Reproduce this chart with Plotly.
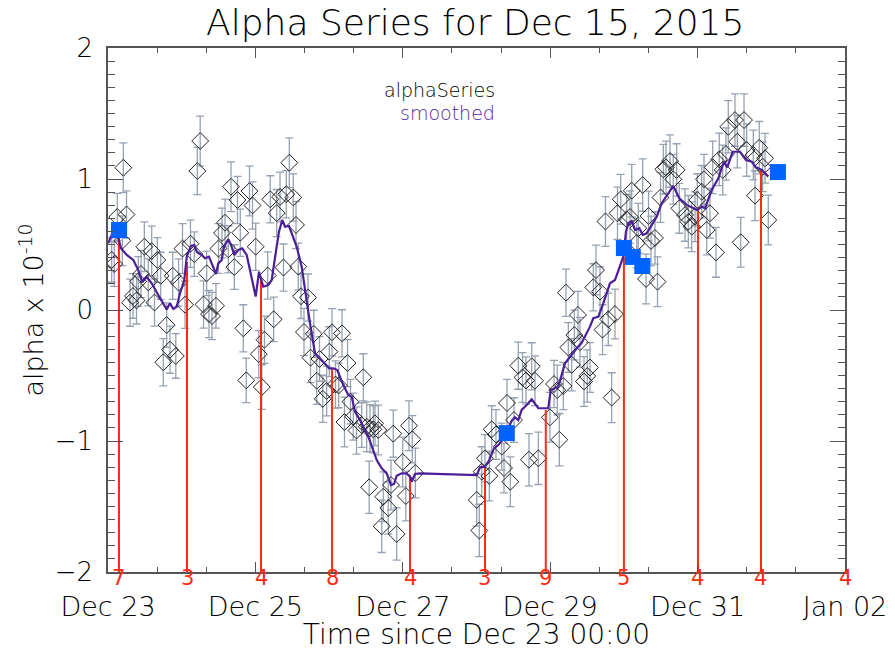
import plotly.graph_objects as go

# ---- data (days since Dec 23 00:00, alpha in units of 1e-10) ----
alpha_t = [0.050, 0.085, 0.126, 0.194, 0.208, 0.251, 0.299, 0.339, 0.387, 0.411,
           0.448, 0.493, 0.547, 0.593, 0.631, 0.669, 0.715, 0.750, 0.796, 0.841,
           0.878, 0.920, 0.958, 1.011, 1.045, 1.119, 1.171, 1.212, 1.251, 1.296,
           1.339, 1.370, 1.411, 1.465, 1.499, 1.547, 1.588, 1.632, 1.669, 1.714,
           1.757, 1.795, 1.836, 1.876, 1.920, 1.961, 2.004, 2.046, 2.087, 2.123,
           2.167, 2.202, 2.248, 2.289, 2.334, 2.381, 2.419, 2.460, 2.514, 2.551,
           2.582, 2.619, 2.659, 2.714, 2.748, 2.792, 2.832, 2.870, 2.914, 2.967,
           3.003, 3.039, 3.087, 3.130, 3.175, 3.209, 3.250, 3.290, 3.328, 3.372,
           3.442, 3.464, 3.510, 3.544, 3.555, 3.600, 3.623, 3.668, 3.714, 3.735,
           3.803, 3.840, 3.871, 3.917, 3.999, 4.041, 4.084, 4.129, 4.170,
           5.003, 5.038, 5.071, 5.115, 5.174, 5.206, 5.264, 5.342, 5.373, 5.414,
           5.459, 5.509, 5.567, 5.624, 5.672, 5.749, 5.794, 5.712, 5.839, 5.997,
           6.052, 6.096, 6.124, 6.178, 6.214, 6.246, 6.292, 6.327, 6.377, 6.404,
           6.459, 6.503, 6.540, 6.585, 6.621, 6.676, 6.710, 6.750, 6.788, 6.834,
           6.879, 6.913, 6.957, 7.038, 7.083, 7.106, 7.174, 7.195, 7.255, 7.300,
           7.334, 7.368, 7.422, 7.456, 7.497, 7.535, 7.571, 7.626, 7.670, 7.716,
           7.752, 7.829, 7.874, 7.920, 7.965, 7.996, 8.056, 8.087, 8.124, 8.168,
           8.205, 8.250, 8.294, 8.341, 8.385, 8.416, 8.507, 8.539, 8.585, 8.630,
           8.666, 8.756, 8.779, 8.837, 8.883, 8.915, 8.959]
alpha_v = [0.382, 0.351, 0.710, 0.529, 1.086, 0.729, 0.056, 0.107, 0.073, 0.218,
           0.275, 0.483, 0.211, 0.450, 0.057, 0.382, 0.261, -0.399, -0.115, -0.303,
           0.261, -0.351, 0.210, 0.469, 0.040, 0.506, 0.427, 1.061, 1.290, 0.042,
           0.280, -0.031, -0.046, 0.032, 0.469, 0.588, 0.666, 0.463, 0.941, 0.328,
           0.840, 0.590, -0.140, -0.537, 0.908, 0.798, 0.483, -0.337, -0.588, -0.227,
           0.263, 0.845, -0.071, 0.740, 0.863, 0.324, 0.884, 1.124, 0.859, 0.649,
           0.331, 0.105, -0.168, 0.095, -0.364, -0.182, -0.540, -0.374, -0.678, -0.618,
           -0.318, -0.170, -0.569, -0.576, -0.178, -0.855, -0.405, -0.700, -0.814, -0.920,
           -0.878, -0.514, -0.891, -1.353, -0.903, -0.911, -0.865, -0.916, -1.651, -1.425,
           -1.511, -1.336, -0.944, -1.710, -1.160, -1.420, -0.883, -0.987, -1.244,
           -1.450, -1.683, -1.234, -1.132, -1.267, -0.911, -0.950, -1.043, -1.206, -0.710,
           -1.311, -0.840, -0.425, -0.515, -0.538, -0.430, -0.540, -1.143, -1.132, -0.819,
           -0.565, -0.611, -0.990, -0.580, 0.132, -0.286, -0.418, -0.191, -0.038, -0.246,
           -0.546, -0.504, -0.439, 0.173, 0.305, 0.140, -0.150, 0.676, -0.071, -0.669,
           -0.031, 0.738, 0.845, 0.692, 0.710, 0.911, 0.511, 0.624, 0.954, 0.237,
           0.718, 0.527, 0.550, 0.216, 0.859, 1.074, 1.089, 1.137, 0.998, 1.069,
           0.776, 0.725, 0.674, 0.636, 0.712, 0.840, 0.903, 0.998, 0.611, 0.738,
           1.089, 0.440, 1.150, 1.069, 1.191, 1.399, 1.450, 1.285, 0.517, 1.450,
           1.221, 1.183, 0.873, 1.239, 1.094, 1.158, 0.687]
alpha_err = [0.17, 0.17, 0.18, 0.19, 0.19, 0.18, 0.18, 0.17, 0.18, 0.19,
             0.18, 0.19, 0.18, 0.19, 0.18, 0.17, 0.18, 0.18, 0.17, 0.18,
             0.18, 0.17, 0.18, 0.19, 0.18, 0.18, 0.17, 0.18, 0.19, 0.18,
             0.17, 0.18, 0.18, 0.17, 0.19, 0.19, 0.18, 0.18, 0.19, 0.17,
             0.18, 0.18, 0.18, 0.17, 0.19, 0.18, 0.18, 0.18, 0.17, 0.18,
             0.18, 0.18, 0.17, 0.18, 0.19, 0.18, 0.18, 0.19, 0.18, 0.18,
             0.18, 0.17, 0.18, 0.18, 0.19, 0.18, 0.18, 0.17, 0.18, 0.19,
             0.19, 0.18, 0.18, 0.17, 0.18, 0.19, 0.18, 0.17, 0.18, 0.18,
             0.17, 0.18, 0.19, 0.20, 0.18, 0.18, 0.17, 0.19, 0.20, 0.19,
             0.20, 0.19, 0.18, 0.20, 0.19, 0.19, 0.19, 0.18, 0.19,
             0.20, 0.20, 0.19, 0.18, 0.19, 0.18, 0.19, 0.18, 0.19, 0.18,
             0.19, 0.17, 0.18, 0.19, 0.18, 0.18, 0.19, 0.20, 0.20, 0.19,
             0.18, 0.19, 0.20, 0.18, 0.18, 0.19, 0.20, 0.19, 0.18, 0.19,
             0.19, 0.20, 0.19, 0.18, 0.19, 0.19, 0.19, 0.19, 0.20, 0.19,
             0.19, 0.20, 0.19, 0.19, 0.20, 0.20, 0.19, 0.19, 0.20, 0.19,
             0.19, 0.19, 0.20, 0.19, 0.19, 0.19, 0.20, 0.20, 0.19, 0.20,
             0.19, 0.20, 0.20, 0.19, 0.19, 0.20, 0.20, 0.19, 0.19, 0.19,
             0.20, 0.19, 0.20, 0.19, 0.20, 0.20, 0.20, 0.20, 0.19, 0.20,
             0.20, 0.19, 0.19, 0.20, 0.19, 0.19, 0.19]

smooth_t = [0.004, 0.050, 0.118, 0.176, 0.254, 0.343, 0.411, 0.465, 0.525, 0.593,
            0.682, 0.737, 0.796, 0.841, 0.886, 0.932, 0.977, 1.035, 1.068, 1.126,
            1.171, 1.204, 1.271, 1.316, 1.370, 1.407, 1.465, 1.497, 1.543, 1.574,
            1.632, 1.669, 1.714, 1.768, 1.822, 1.882, 1.950, 2.004, 2.049, 2.107,
            2.175, 2.221, 2.275, 2.320, 2.365, 2.402, 2.456, 2.493, 2.560, 2.628,
            2.673, 2.741, 2.809, 2.900, 3.003, 3.057, 3.111, 3.193, 3.260, 3.307,
            3.351, 3.419, 3.532, 3.646, 3.714, 3.782, 3.840, 3.881, 3.917, 3.985,
            4.053, 4.098, 4.121, 4.166, 4.233, 5.003, 5.047, 5.115, 5.174, 5.237,
            5.296, 5.342, 5.387, 5.478, 5.522, 5.567, 5.613, 5.681, 5.749, 5.839,
            5.974, 6.007, 6.110, 6.201, 6.269, 6.360, 6.427, 6.495, 6.540, 6.585,
            6.653, 6.720, 6.767, 6.811, 6.879, 6.947, 6.992, 7.028, 7.060, 7.106,
            7.151, 7.209, 7.255, 7.309, 7.377, 7.445, 7.513, 7.670, 7.752, 7.852,
            7.996, 8.056, 8.100, 8.191, 8.281, 8.358, 8.403, 8.476, 8.575, 8.657,
            8.734, 8.792, 8.870, 8.959]
smooth_v = [0.509, 0.573, 0.598, 0.471, 0.420, 0.382, 0.305, 0.211, 0.254, 0.204,
            0.115, 0.063, 0.005, 0.051, 0.008, 0.025, 0.127, 0.229, 0.407, 0.489,
            0.496, 0.445, 0.420, 0.395, 0.407, 0.356, 0.275, 0.356, 0.382, 0.483,
            0.540, 0.496, 0.420, 0.458, 0.471, 0.420, 0.254, 0.102, 0.292, 0.178,
            0.191, 0.229, 0.433, 0.598, 0.687, 0.636, 0.641, 0.585, 0.483, 0.331,
            0.153, -0.102, -0.331, -0.382, -0.445, -0.445, -0.458, -0.573, -0.649, -0.662,
            -0.776, -0.840, -0.967, -1.145, -1.208, -1.247, -1.336, -1.328, -1.265, -1.247,
            -1.247, -1.273, -1.311, -1.252, -1.247, -1.260, -1.201, -1.196, -1.145, -1.056,
            -1.031, -0.998, -0.954, -0.845, -0.819, -0.840, -0.763, -0.725, -0.682, -0.750,
            -0.750, -0.611, -0.585, -0.407, -0.356, -0.292, -0.250, -0.178, -0.127, -0.063,
            -0.051, 0.051, 0.127, 0.204, 0.229, 0.331, 0.407, 0.598, 0.662, 0.679,
            0.611, 0.624, 0.573, 0.585, 0.649, 0.712, 0.815, 0.947, 0.853, 0.802,
            0.763, 0.789, 0.776, 0.916, 1.005, 1.132, 1.089, 1.208, 1.208, 1.145,
            1.132, 1.089, 1.069, 1.018]

marker_t = [0.149, 5.41, 7.00, 7.12, 7.25, 9.09]
marker_v = [0.61, -0.94, 0.473, 0.405, 0.336, 1.053]

count_t = [0.149, 1.072, 2.076, 3.040, 4.098, 5.115, 5.940, 7.000, 8.005, 8.860, 10.0]
count_top = [0.565, 0.366, 0.252, -0.443, -1.260, -1.190, -0.763, 0.405, 0.780, 1.070, None]
count_labels = ["7", "3", "4", "8", "4", "3", "9", "5", "4", "4", "4"]

x_tickvals = [0, 2, 4, 6, 8, 10]
x_ticktext = ["Dec 23", "Dec 25", "Dec 27", "Dec 29", "Dec 31", "Jan 02"]
Y_MIN, Y_MAX = -2, 2

FONT = "DejaVu Sans"
W = 200
TXT = "#000000"
AXCOL = "#555555"
RED = "#ff2a10"

fig = go.Figure()

fig.add_trace(go.Scatter(
    x=alpha_t, y=alpha_v, mode="markers",
    marker=dict(symbol="diamond-open", size=13, color="#222222", line=dict(width=1)),
    error_y=dict(type="data", array=alpha_err, visible=True, color="#96a2b2",
                 thickness=1.3, width=4),
    showlegend=False, hoverinfo="skip"))

# red count lines
lx, ly = [], []
for t, top in zip(count_t, count_top):
    if top is None:
        continue
    lx += [t, t, None]
    ly += [Y_MIN, top, None]
fig.add_trace(go.Scatter(x=lx, y=ly, mode="lines",
                         line=dict(color=RED, width=2), showlegend=False, hoverinfo="skip"))

fig.add_trace(go.Scatter(x=smooth_t, y=smooth_v, mode="lines",
                         line=dict(color="#4a1f98", width=2.2), showlegend=False,
                         hoverinfo="skip"))

fig.add_trace(go.Scatter(x=marker_t, y=marker_v, mode="markers",
                         marker=dict(symbol="square", size=16, color="#0062ff"),
                         showlegend=False, hoverinfo="skip"))

for t, lab in zip(count_t, count_labels):
    fig.add_annotation(x=t, y=Y_MIN, xref="x", yref="y", text=lab, showarrow=False,
                       yanchor="top", xanchor="center", yshift=7, borderpad=0,
                       font=dict(family=FONT, size=21, color=RED, weight=400))

fig.add_annotation(x=0.528, y=0.920, xref="paper", yref="paper", text="alphaSeries",
                   showarrow=False, xanchor="right", yanchor="middle",
                   font=dict(family=FONT, size=19, color=TXT, weight=W))
fig.add_annotation(x=0.528, y=0.876, xref="paper", yref="paper", text="smoothed",
                   showarrow=False, xanchor="right", yanchor="middle",
                   font=dict(family=FONT, size=19, color="#4a1f98", weight=W))

fig.update_layout(
    width=895, height=651,
    margin=dict(l=108, r=50, t=48, b=79),
    paper_bgcolor="white", plot_bgcolor="white",
    font=dict(family=FONT, color=TXT, size=24, weight=W),
    title=dict(text="Alpha Series for Dec 15, 2015", x=0.531, xanchor="center",
               y=0.966, yanchor="middle",
               font=dict(family=FONT, size=36, color=TXT, weight=W)),
    xaxis=dict(range=[0, 10], tickvals=x_tickvals, ticktext=x_ticktext,
               ticks="inside", ticklen=10, tickcolor=AXCOL, showline=True,
               linecolor=AXCOL, linewidth=1.5, mirror="ticks", showgrid=False,
               zeroline=False, ticklabelstandoff=10, automargin=False,
               tickfont=dict(size=27, color=TXT, weight=W),
               minor=dict(dtick=2/3, ticks="inside", ticklen=5, tickcolor=AXCOL),
               title=dict(text="Time since Dec 23 00:00",
                          font=dict(size=28, color=TXT, weight=W), standoff=7)),
    yaxis=dict(range=[Y_MIN, Y_MAX], tickvals=[-2, -1, 0, 1, 2],
               ticks="inside", ticklen=15, tickcolor=AXCOL, showline=True,
               linecolor=AXCOL, linewidth=1.5, mirror="ticks", showgrid=False,
               zeroline=False, tickfont=dict(size=26, color=TXT, weight=W),
               ticklabelstandoff=8, automargin=False,
               minor=dict(dtick=0.1, ticks="inside", ticklen=7, tickcolor=AXCOL),
               title=dict(text="alpha x 10<sup>-10</sup>",
                          font=dict(size=27, color=TXT, weight=W), standoff=3)),
)

fig.write_html("out.html")
